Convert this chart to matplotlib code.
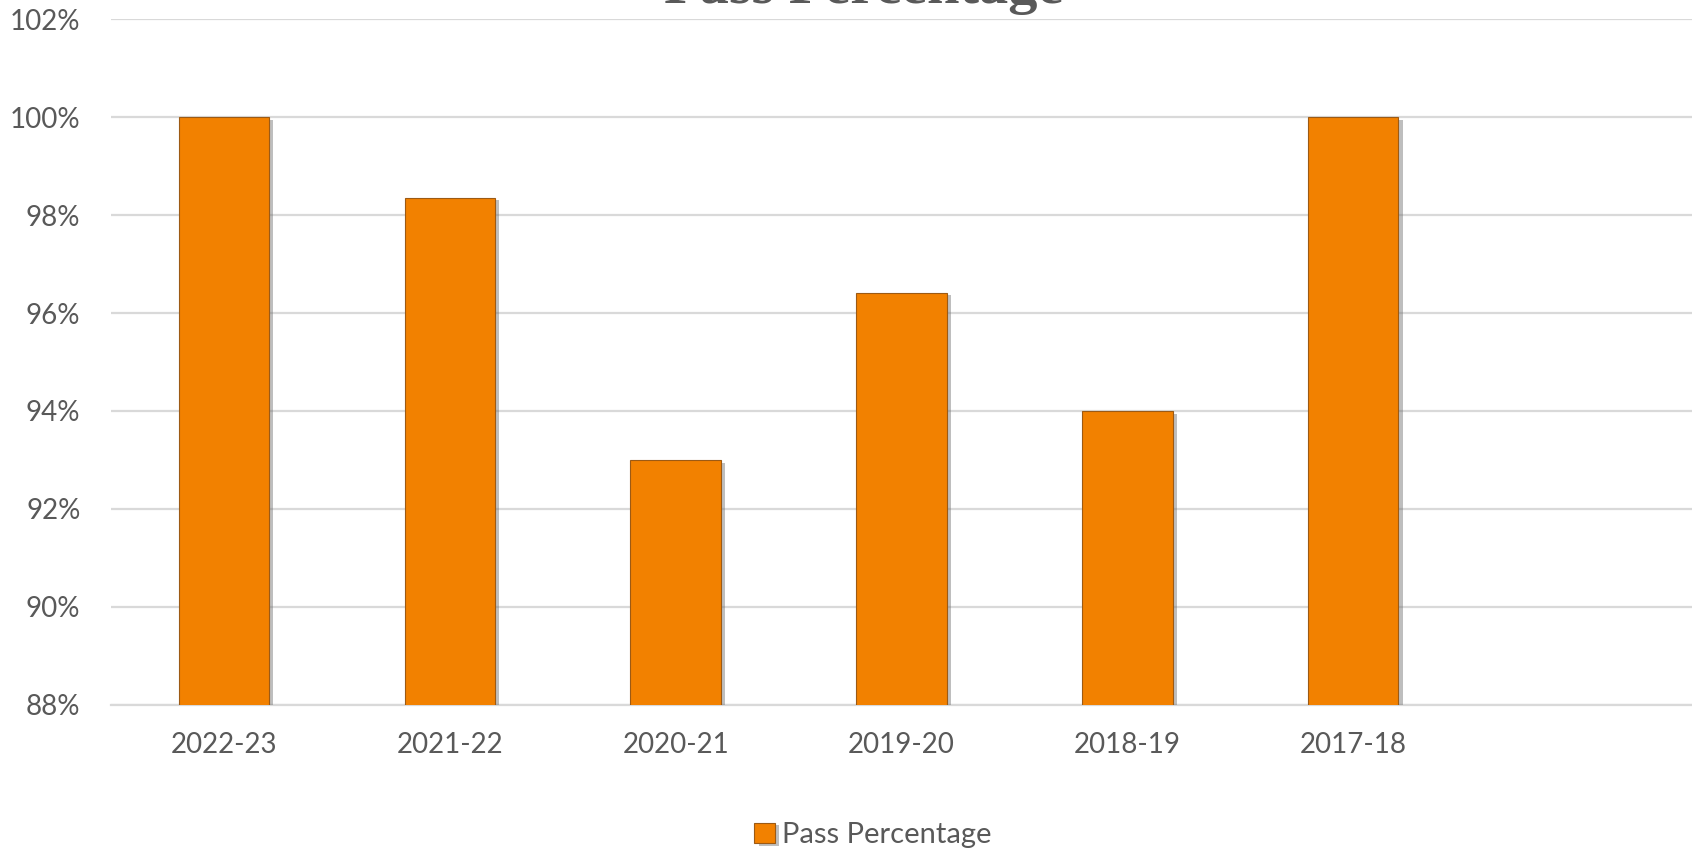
import matplotlib
matplotlib.use('Agg')
import matplotlib.pyplot as plt
import matplotlib.patheffects as pe
from matplotlib.ticker import FuncFormatter, MultipleLocator

# data
years = ['2022-23', '2021-22', '2020-21', '2019-20', '2018-19', '2017-18', '']
passPct = [100, 98.36, 93, 96.42, 94, 100, None]

textGrey = '#595959'
gridGrey = '#D9D9D9'
barOrange = '#F28100'

plt.rcParams['font.family'] = ['Lato', 'DejaVu Sans']

fig = plt.figure(figsize=(16.92, 8.51), dpi=100)
ax = fig.add_axes([111/1692, 1 - 704.6/851, 1 - 111/1692, (704.6 - 19.4)/851])

xs = list(range(len(years)))
vals = [v if v is not None else 0 for v in passPct]
bars = ax.bar(xs, vals, width=0.40, color=barOrange, edgecolor='#9C5A14',
              linewidth=0.8, zorder=3, label='Pass Percentage')
for b, v in zip(bars, passPct):
    if v is None:
        b.set_visible(False)
    b.set_path_effects([pe.SimplePatchShadow(offset=(3, -2), shadow_rgbFace='#707070', alpha=0.45),
                        pe.Normal()])

ax.set_xlim(-0.5, len(years) - 0.5)
ax.set_ylim(88, 102)
ax.yaxis.set_major_locator(MultipleLocator(2))
ax.yaxis.set_major_formatter(FuncFormatter(lambda v, p: f'{int(round(v))}%'))
ax.set_xticks(xs[:-1])
ax.set_xticklabels(years[:-1])

ax.grid(axis='y', color=gridGrey, linewidth=1.6, zorder=0)
for s in ['top', 'right', 'left']:
    ax.spines[s].set_visible(False)
ax.spines['bottom'].set_color(gridGrey)
ax.spines['bottom'].set_linewidth(1.6)
ax.tick_params(axis='both', length=0, colors=textGrey, labelsize=20)
ax.tick_params(axis='x', pad=20)
ax.tick_params(axis='y', pad=22)

# title is cut off at the top of the picture
fig.text(864/1692, 1 - 3/851, 'Pass Percentage', ha='center', va='baseline',
         fontsize=42, family=['Liberation Serif'], fontweight='bold', color=textGrey)

fig.legend(handles=[bars[0]], labels=['Pass Percentage'], loc='center',
           bbox_to_anchor=(873/1692, 1 - 835/851), frameon=False, fontsize=21,
           labelcolor=textGrey, handlelength=0.7, handleheight=0.7, handletextpad=0.25)

fig.savefig('out.png', dpi=100, facecolor='white')
